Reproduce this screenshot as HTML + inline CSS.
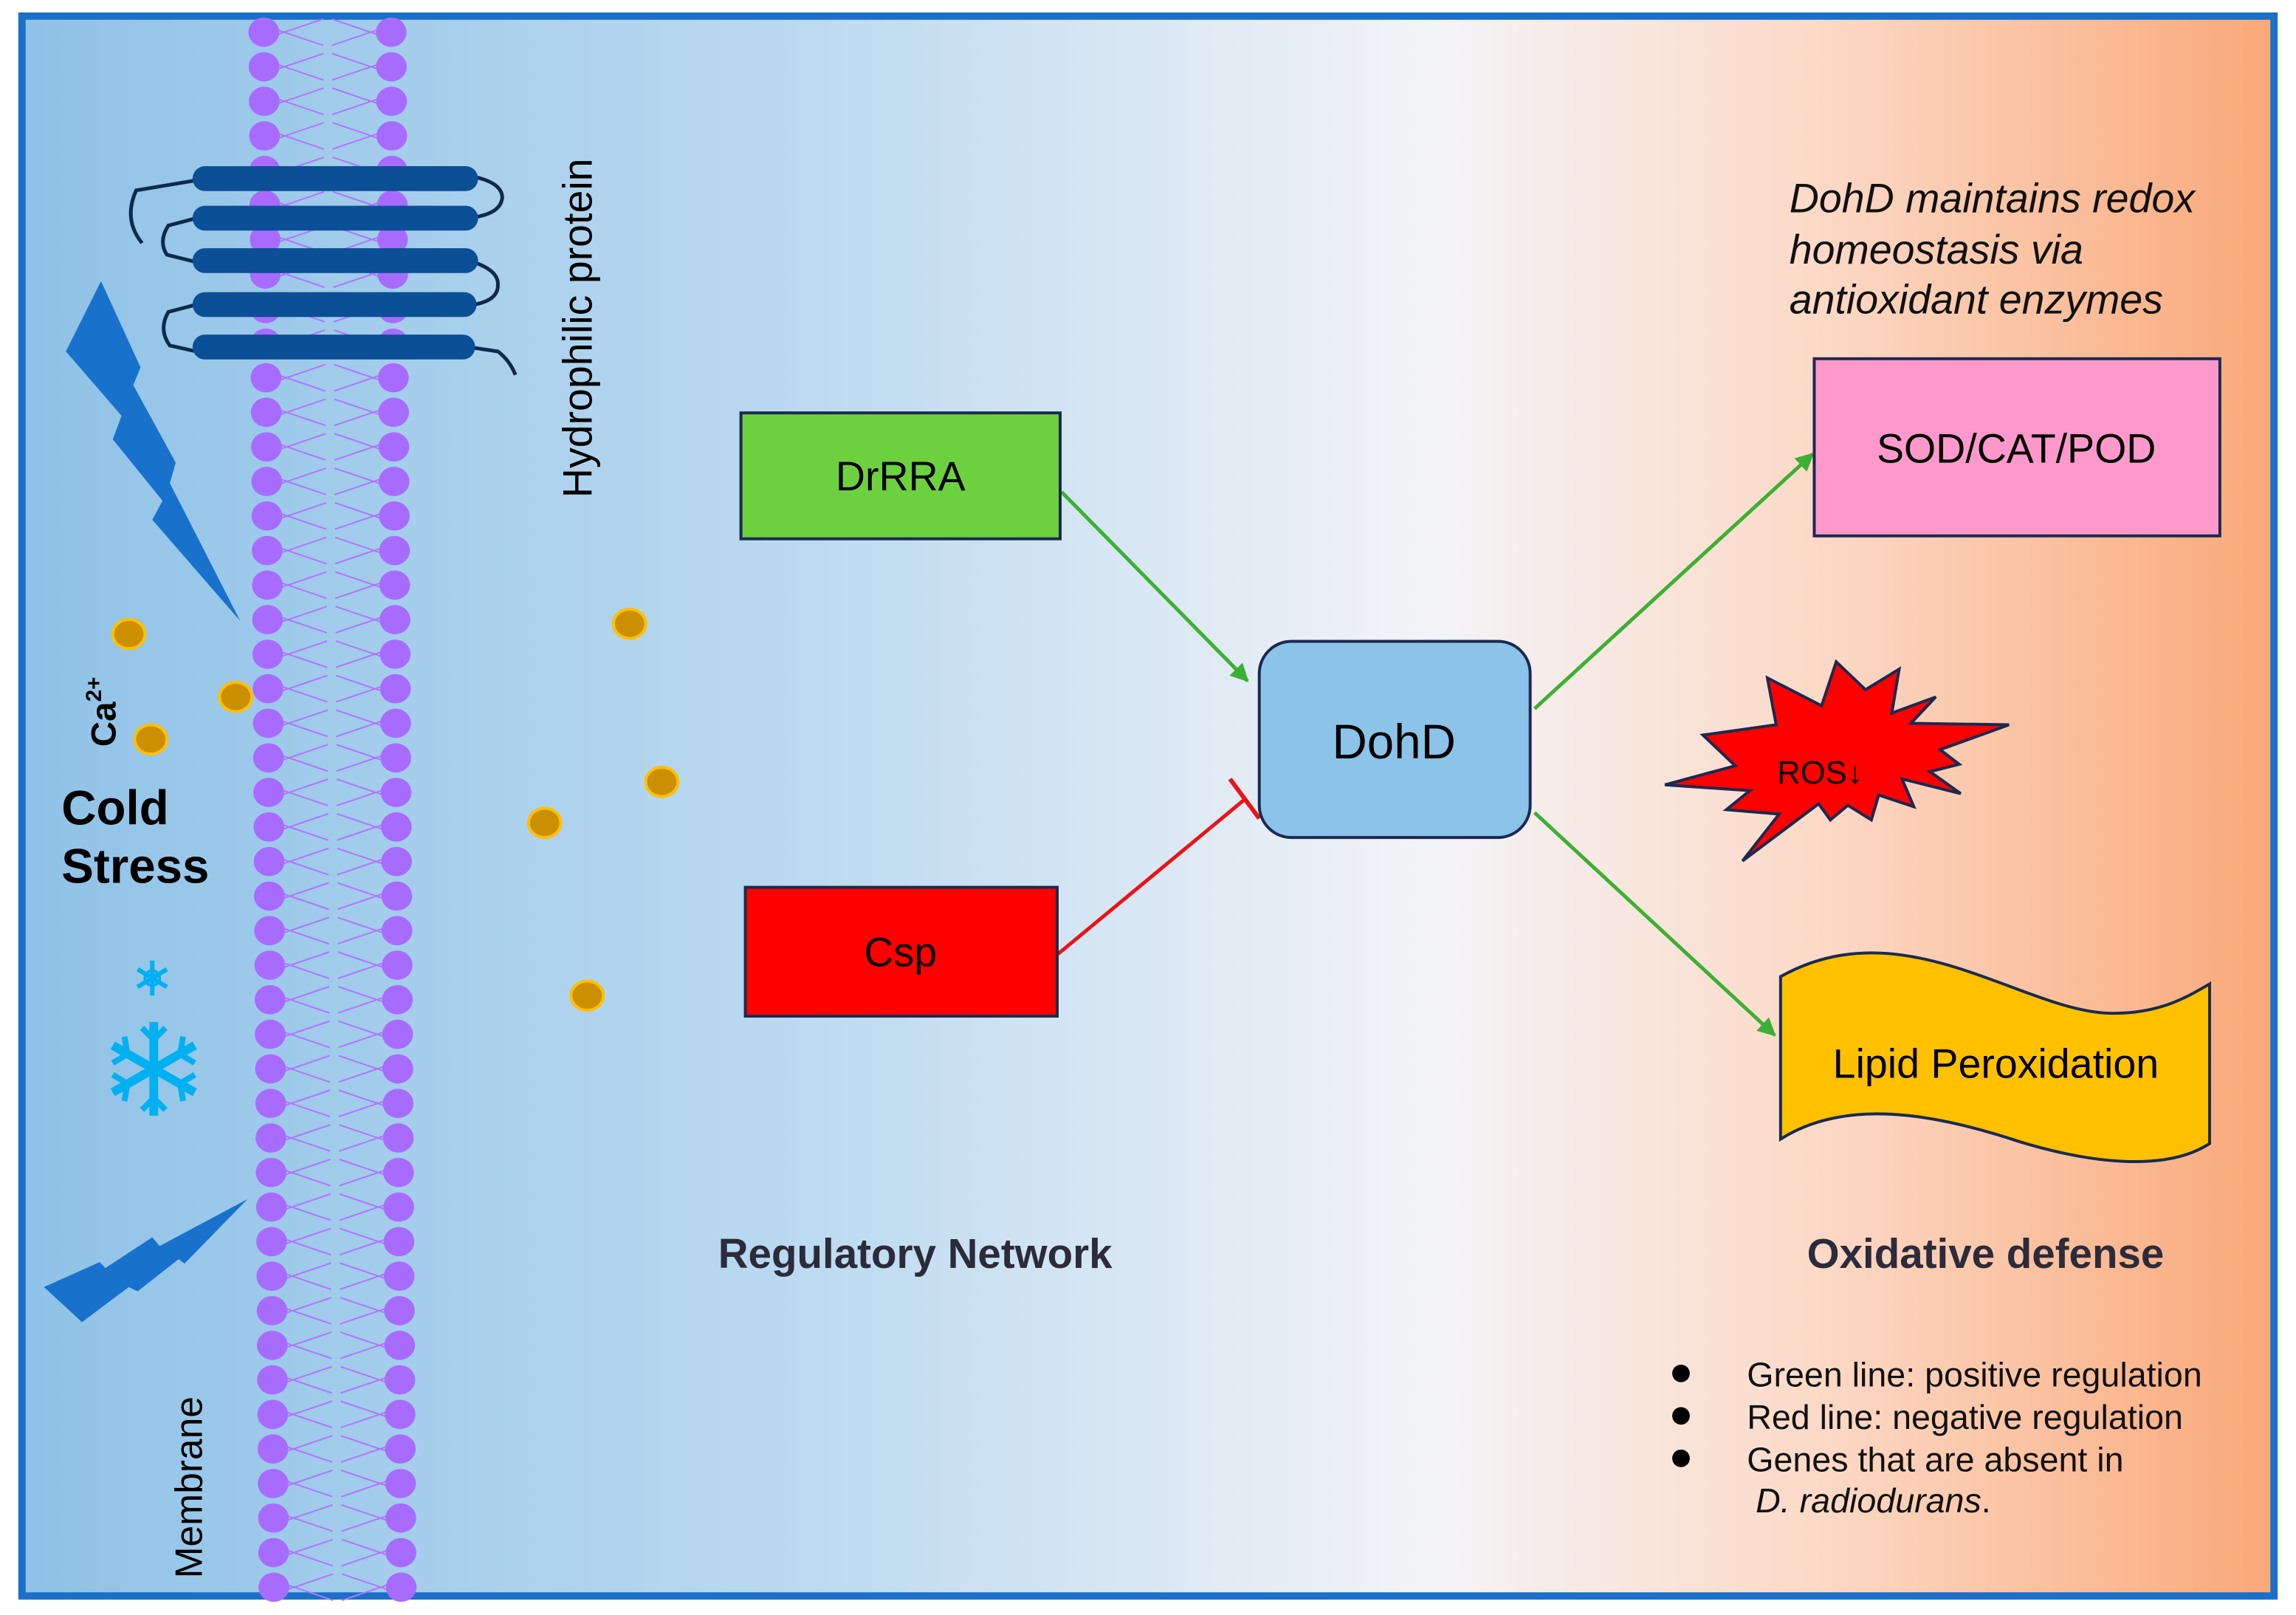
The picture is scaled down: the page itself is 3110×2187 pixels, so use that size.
<!DOCTYPE html>
<html><head><meta charset="utf-8">
<style>
html,body{margin:0;padding:0;background:#fff;}
svg{display:block;width:3110px;height:2187px;}
text{font-family:"Liberation Sans",Arial,sans-serif;}
</style></head>
<body>
<svg id="s" viewBox="0 0 1568 1103" preserveAspectRatio="none" xmlns="http://www.w3.org/2000/svg">
<defs>
<linearGradient id="bg" x1="0" y1="0" x2="1" y2="0">
<stop offset="0" stop-color="#8fc2e7"/>
<stop offset="0.35" stop-color="#bcdaf0"/>
<stop offset="0.63" stop-color="#f4f4f7"/>
<stop offset="0.8" stop-color="#fcd9c6"/>
<stop offset="1" stop-color="#f9a878"/>
</linearGradient>
<marker id="ag" viewBox="0 0 10 10" refX="9" refY="5" markerWidth="5" markerHeight="5" orient="auto"><path d="M0,0L10,5L0,10z" fill="#3cb034"/></marker>
</defs>
<rect x="15" y="11" width="1538" height="1079" fill="url(#bg)" stroke="#1a6fc9" stroke-width="5"/>
<g id="mem"></g>
<g fill="none" stroke="#0d2a4a" stroke-width="2.5">
<path d="M135,123 L93,130 Q84,150 97,166"/>
<path d="M134,149 L115,154 Q108,165 114,174 L134,179"/>
<path d="M134,208 L115,213 Q108,225 116,236 L134,240"/>
<path d="M320,120 Q343,124 343,135 Q342,145 326,148"/>
<path d="M320,178 Q341,184 340,195 Q340,205 324,208"/>
<path d="M320,237 L340,240 Q348,246 352,256"/>
</g>
<g stroke="#0b4f96" stroke-width="17" stroke-linecap="round">
<line x1="140" y1="122" x2="318" y2="122"/>
<line x1="140" y1="149" x2="318" y2="149"/>
<line x1="140" y1="178" x2="318" y2="178"/>
<line x1="140" y1="208" x2="317" y2="208"/>
<line x1="140" y1="237" x2="316" y2="237"/>
</g>
<polygon fill="#1872cc" points="69,192 96,251 91,263 120,316 116,330 164,424 104,355 111,342 77,300 83,284 45,240"/>
<polygon fill="#1872cc" points="30,879 68,862 72,866 104,845 109,851 169,819 126,863 122,860 94,882 88,879 56,903"/>
<g stroke="#00b0f0" stroke-linecap="butt" fill="none">
<g transform="translate(105,730)" stroke-width="6">
<line x1="0" y1="-32" x2="0" y2="32"/><line x1="-28" y1="-16" x2="28" y2="16"/><line x1="-28" y1="16" x2="28" y2="-16"/>
<g stroke-width="4">
<path d="M-8,-28 L0,-20 L8,-28 M-8,28 L0,20 L8,28"/>
<path d="M-28,-4 L-18,-10 L-20,-22 M28,4 L18,10 L20,22"/>
<path d="M-28,4 L-18,10 L-20,22 M28,-4 L18,-10 L20,-22"/>
</g></g>
<g transform="translate(104,668)" stroke-width="3">
<line x1="0" y1="-12" x2="0" y2="12"/><line x1="-10" y1="-6" x2="10" y2="6"/><line x1="-10" y1="6" x2="10" y2="-6"/>
<circle r="5" stroke-width="2"/>
</g></g>
<g fill="#cc8f00" stroke="#ffc000" stroke-width="2">
<ellipse cx="88" cy="433" rx="11" ry="10"/><ellipse cx="161" cy="476" rx="11" ry="10"/><ellipse cx="103" cy="505" rx="11" ry="10"/>
<ellipse cx="430" cy="426" rx="11" ry="10"/><ellipse cx="452" cy="534" rx="11" ry="10"/><ellipse cx="372" cy="562" rx="11" ry="10"/><ellipse cx="401" cy="680" rx="11" ry="10"/>
</g>
<text transform="translate(79,510) rotate(-90)" font-size="24" font-weight="bold">Ca<tspan font-size="15" dy="-10">2+</tspan></text>
<text x="42" y="563" font-size="33" font-weight="bold">Cold</text>
<text x="42" y="603" font-size="33" font-weight="bold">Stress</text>
<text transform="translate(404,340) rotate(-90)" font-size="28">Hydrophilic protein</text>
<text transform="translate(138,1078) rotate(-90)" font-size="26">Membrane</text>
<g stroke="#3cb034" stroke-width="2.5" marker-end="url(#ag)">
<line x1="725" y1="336" x2="852" y2="465"/>
<line x1="1048" y1="484" x2="1238" y2="310"/>
<line x1="1048" y1="555" x2="1212" y2="707"/>
</g>
<line x1="722" y1="652" x2="850" y2="546" stroke="#e8141a" stroke-width="2.5"/>
<line x1="840" y1="532" x2="860" y2="559" stroke="#e8141a" stroke-width="3"/>
<rect x="506" y="282" width="218" height="86" fill="#6dd13f" stroke="#1a2a50" stroke-width="2"/>
<text x="615" y="335" font-size="28" text-anchor="middle">DrRRA</text>
<rect x="509" y="606" width="213" height="88" fill="#ff0000" stroke="#1a2a50" stroke-width="2"/>
<text x="615" y="660" font-size="28" text-anchor="middle">Csp</text>
<rect x="860" y="438" width="185" height="134" rx="22" fill="#8cc3e8" stroke="#1a2a50" stroke-width="2"/>
<text x="952" y="518" font-size="33" text-anchor="middle">DohD</text>
<rect x="1239" y="245" width="277" height="121" fill="#ff99cc" stroke="#1a2a50" stroke-width="2"/>
<text x="1377" y="316" font-size="28" text-anchor="middle">SOD/CAT/POD</text>
<path d="M1216,667 C1300,620 1380,690 1440,692 C1475,693 1495,680 1509,672 L1509,781 C1480,800 1430,795 1380,780 C1320,760 1260,750 1216,778 Z" fill="#ffc000" stroke="#1a2a50" stroke-width="2"/>
<text x="1363" y="736" font-size="28" text-anchor="middle">Lipid Peroxidation</text>
<polygon fill="#ff0000" stroke="#1a2a50" stroke-width="2" points="1137,536 1185,523 1163,502 1213,495 1207,463 1244,482 1254,452 1274,471 1297,457 1292,487 1322,476 1305,494 1372,495 1325,512 1338,522 1318,527 1339,542 1299,532 1307,551 1283,543 1278,560 1262,550 1250,560 1242,549 1190,588 1215,556 1179,553 1195,540"/>
<text x="1243" y="535" font-size="22" text-anchor="middle">ROS↓</text>
<g font-size="28" font-style="italic" fill="#111">
<text x="1222" y="145">DohD maintains redox</text>
<text x="1222" y="180">homeostasis via</text>
<text x="1222" y="214">antioxidant enzymes</text>
</g>
<text x="625" y="866" font-size="28.5" font-weight="bold" text-anchor="middle" fill="#2b2b3b">Regulatory Network</text>
<text x="1356" y="866" font-size="28.5" font-weight="bold" text-anchor="middle" fill="#2b2b3b">Oxidative defense</text>
<g fill="#000">
<circle cx="1148" cy="938" r="6"/><circle cx="1148" cy="967" r="6"/><circle cx="1148" cy="996" r="6"/>
</g>
<g font-size="23.5" fill="#111">
<text x="1193" y="947">Green line: positive regulation</text>
<text x="1193" y="976">Red line: negative regulation</text>
<text x="1193" y="1005">Genes that are absent in</text>
<text x="1199" y="1033" font-style="italic">D. radiodurans<tspan font-style="normal">.</tspan></text>
</g>
</svg>
<script>
(function(){
var g=document.getElementById('mem'),h='';
var n=46;
for(var i=0;i<n;i++){
 var y=22+i*23.6, d=7*y/1083, xl=180+d, xr=267+d, cx=(xl+xr)/2;
 h+='<path d="M'+(xl+8)+','+(y-2)+' L'+(cx-3)+','+(y+9)+' M'+(xl+8)+','+(y+2)+' L'+(cx-3)+','+(y-9)+' M'+(xr-8)+','+(y-2)+' L'+(cx+3)+','+(y+9)+' M'+(xr-8)+','+(y+2)+' L'+(cx+3)+','+(y-9)+'" stroke="#b074ff" stroke-width="1" fill="none"/>';
}
for(var i=0;i<n;i++){
 var y=22+i*23.6, d=7*y/1083, xl=180+d, xr=267+d;
 h+='<ellipse cx="'+xl+'" cy="'+y+'" rx="10.5" ry="10" fill="#a86bff"/><ellipse cx="'+xr+'" cy="'+y+'" rx="10.5" ry="10" fill="#a86bff"/>';
}
g.innerHTML=h;
})();
</script>
</body></html>
